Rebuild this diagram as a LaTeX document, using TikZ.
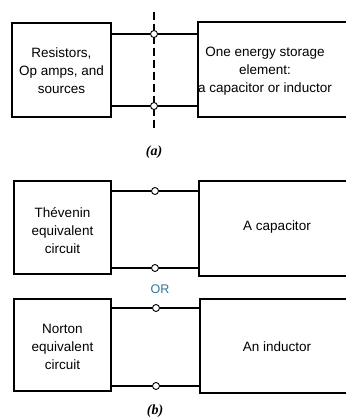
\documentclass[tikz,border=0pt]{standalone}
\usepackage{fontspec}
\setmainfont{Liberation Sans}
\newfontfamily\capfont{Liberation Serif}
\definecolor{orteal}{RGB}{45,120,150}
\begin{document}
\begin{tikzpicture}[x=1pt, y=-1pt,
  blk/.style={draw, line width=1.4pt, inner sep=0pt},
  lbl/.style={font=\fontsize{13.5}{18}\selectfont, align=center},
  wire/.style={line width=1.2pt},
  term/.style={circle, draw, fill=white, line width=0.9pt, inner sep=0pt, minimum size=7pt},
  cut/.style={line width=1.3pt, dash pattern=on 8pt off 4pt},
  capt/.style={font=\capfont\itshape\bfseries\fontsize{14}{16}\selectfont},
]
\useasboundingbox (0,0) rectangle (345,419);

% (a): general circuit split at the terminals
\node[blk, minimum width=99pt, minimum height=94pt]  (gen)  at (61.5,70)  {};
\node[lbl] (genl) at (61.5,71) {Resistors,\\Op amps, and\\sources};
\node[blk, minimum width=170pt, minimum height=95pt] (stor) at (283,69.5) {};
\node[lbl] (storl) at (265,71) {One energy storage\\element:\\a capacitor or inductor};
\coordinate (cutT) at (154,12);
\coordinate (cutB) at (154,128);
\draw[cut] (cutT) -- (cutB);
\node[term] (ta1) at (154,34)  {};
\node[term] (ta2) at (154,106) {};
\draw[wire] (gen.east |- ta1) -- (ta1) -- (stor.west |- ta1);
\draw[wire] (gen.east |- ta2) -- (ta2) -- (stor.west |- ta2);
\node[capt] (capa) at (154,152) {(a)};

% (b): Thevenin with a capacitor
\node[blk, minimum width=97pt, minimum height=93pt]  (thev) at (62.5,227.5) {};
\node[lbl] (thevl) at (62.5,231) {Thévenin\\equivalent\\circuit};
\node[blk, minimum width=170pt, minimum height=95pt] (capb) at (284,228.5) {};
\node[lbl] (capl) at (277,227) {A capacitor};
\node[term] (tb1) at (155,191) {};
\node[term] (tb2) at (155,268) {};
\draw[wire] (thev.east |- tb1) -- (tb1) -- (capb.west |- tb1);
\draw[wire] (thev.east |- tb2) -- (tb2) -- (capb.west |- tb2);

\node[font=\fontsize{12.5}{14}\selectfont, text=orteal] (or) at (160,289) {OR};

% (b): Norton with an inductor
\node[blk, minimum width=97pt, minimum height=92pt]  (nort) at (62.5,345) {};
\node[lbl] (nortl) at (62.5,347) {Norton\\equivalent\\circuit};
\node[blk, minimum width=170pt, minimum height=94pt] (indb) at (285,346) {};
\node[lbl] (indl) at (277,347) {An inductor};
\node[term] (tc1) at (156,308) {};
\node[term] (tc2) at (156,386) {};
\draw[wire] (nort.east |- tc1) -- (tc1) -- (indb.west |- tc1);
\draw[wire] (nort.east |- tc2) -- (tc2) -- (indb.west |- tc2);
\node[capt] (capb2) at (155,411) {(b)};
\end{tikzpicture}
\end{document}
